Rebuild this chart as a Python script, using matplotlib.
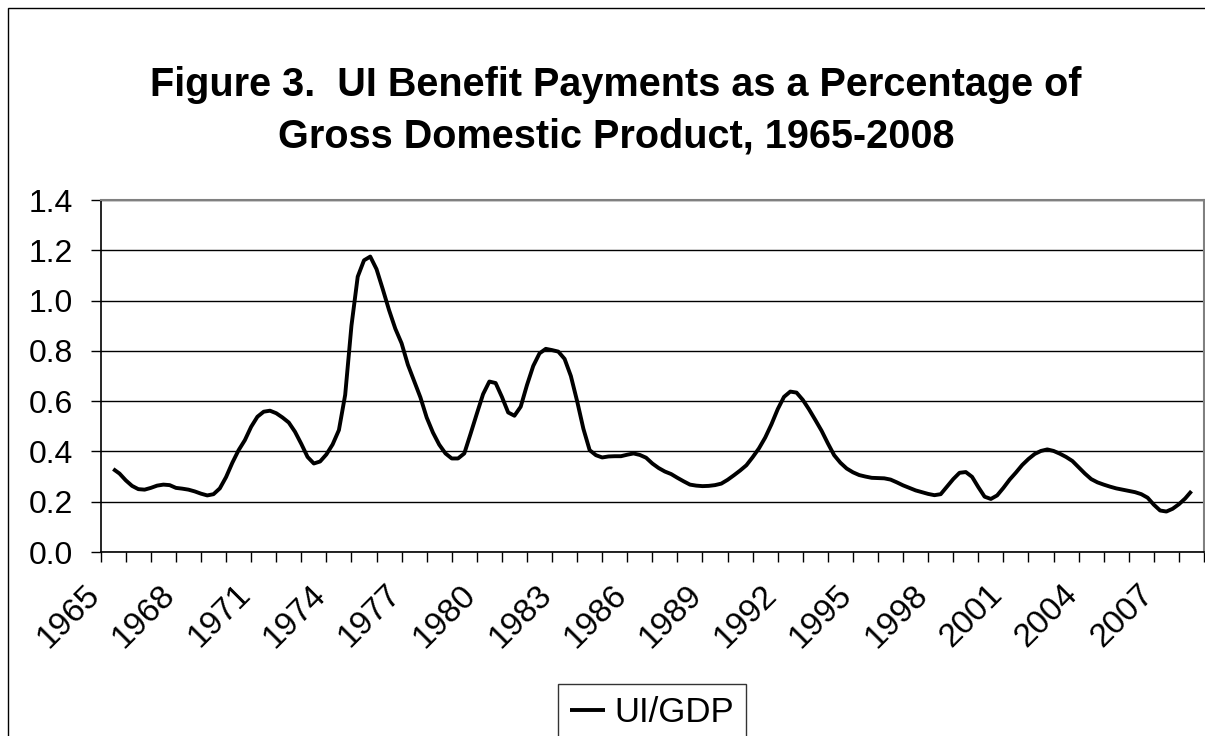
import matplotlib.pyplot as plt
import matplotlib.patches as patches
import matplotlib.transforms as mtransforms
import numpy as np

plt.rcParams['font.family'] = ['Liberation Sans', 'DejaVu Sans']

# quarterly values, UI benefits as % of GDP, 1965Q1 .. 2008Q1
ui_gdp = [
    0.330, 0.312, 0.285, 0.263,  # 1965
    0.250, 0.248, 0.255, 0.264,
    0.268, 0.266, 0.255, 0.252,
    0.248, 0.241, 0.232, 0.225,
    0.230, 0.253, 0.298, 0.355,
    0.405, 0.445, 0.498, 0.538,  # 1970
    0.558, 0.562, 0.552, 0.535,
    0.515, 0.478, 0.430, 0.378,
    0.352, 0.360, 0.388, 0.428,
    0.485, 0.625, 0.900, 1.095,
    1.160, 1.175, 1.125, 1.045,  # 1975
    0.962, 0.888, 0.830, 0.745,
    0.680, 0.615, 0.535, 0.475,
    0.427, 0.392, 0.372, 0.372,
    0.392, 0.470, 0.550, 0.628,
    0.678, 0.672, 0.617, 0.555,  # 1980
    0.542, 0.578, 0.664, 0.740,
    0.790, 0.808, 0.803, 0.797,
    0.768, 0.700, 0.600, 0.490,
    0.405, 0.385, 0.376, 0.380,
    0.381, 0.381, 0.387, 0.392,  # 1985
    0.386, 0.375, 0.352, 0.334,
    0.320, 0.310, 0.295, 0.281,
    0.268, 0.264, 0.262, 0.263,
    0.266, 0.272, 0.287, 0.305,
    0.324, 0.345, 0.377, 0.412,  # 1990
    0.455, 0.508, 0.568, 0.617,
    0.638, 0.634, 0.605, 0.567,
    0.525, 0.482, 0.432, 0.385,
    0.355, 0.332, 0.317, 0.306,
    0.300, 0.295, 0.294, 0.293,  # 1995
    0.288, 0.277, 0.265, 0.255,
    0.245, 0.238, 0.231, 0.226,
    0.230, 0.260, 0.290, 0.315,
    0.318, 0.299, 0.258, 0.220,
    0.211, 0.225, 0.255, 0.288,  # 2000
    0.316, 0.346, 0.370, 0.390,
    0.402, 0.408, 0.402, 0.391,
    0.378, 0.362, 0.337, 0.312,
    0.290, 0.277, 0.268, 0.260,
    0.253, 0.248, 0.243, 0.238,  # 2005
    0.230, 0.216, 0.188, 0.165,
    0.161, 0.172, 0.190, 0.213,
    0.242,                       # 2008
]
first_year = 1965
last_year = 2008
label_years = list(range(1965, 2008, 3))
y_ticks = [0.0, 0.2, 0.4, 0.6, 0.8, 1.0, 1.2, 1.4]

quarters = first_year + np.arange(len(ui_gdp)) / 4.0

W, H = 1205, 736
fig = plt.figure(figsize=(W / 100, H / 100), dpi=100)
ax = fig.add_axes([100.7 / W, 1 - 552 / H, (1204 - 100.7) / W, (552 - 200) / H])

ax.plot(quarters, ui_gdp, color='black', lw=2.8, solid_joinstyle='round',
        solid_capstyle='butt', label='UI/GDP')

ax.set_xlim(first_year - 0.5, last_year + 0.5)
ax.set_ylim(0, 1.4)

ax.set_yticks(y_ticks)
ax.set_yticklabels(['%.1f' % v for v in y_ticks], fontsize=23)
ax.yaxis.grid(True, color='black', lw=1.0)
ax.set_axisbelow(True)

# tick marks between categories, labels at category centres (every 3rd year)
ax.set_xticks(np.arange(first_year - 0.5, last_year + 0.6, 1.0))
ax.set_xticklabels([])
lab_trans = ax.get_xaxis_transform() + mtransforms.ScaledTranslation(-18 / 100, -38 / 100, fig.dpi_scale_trans)
for yr in label_years:
    ax.text(yr, 0, str(yr), transform=lab_trans, fontsize=24, rotation=45,
            ha='right', va='center', rotation_mode='anchor')

ax.tick_params(axis='x', direction='out', length=7, width=1, color='black')
ax.tick_params(axis='y', direction='out', length=7, width=1, color='black', pad=13)

for side in ['top', 'right']:
    ax.spines[side].set_color('#808080')
    ax.spines[side].set_linewidth(1.5)
for side in ['left', 'bottom']:
    ax.spines[side].set_color('black')
    ax.spines[side].set_linewidth(1.2)

fig.text(616 / W, 1 - 85 / H, 'Figure 3.  UI Benefit Payments as a Percentage of',
         ha='center', va='center', fontsize=28.5, fontweight='bold')
fig.text(616 / W, 1 - 137 / H, 'Gross Domestic Product, 1965-2008',
         ha='center', va='center', fontsize=28.5, fontweight='bold')

leg = ax.legend(loc='upper center', bbox_to_anchor=(652 / W, 1 - 684 / H),
                bbox_transform=fig.transFigure, fontsize=25, frameon=True, fancybox=False,
                handlelength=1.0, handletextpad=0.25, borderpad=0.35, borderaxespad=0)
leg.get_frame().set_edgecolor('black')
leg.get_frame().set_linewidth(1.0)

# outer chart-area border
fig.patches.append(patches.Rectangle((8 / W, -0.05), 1.2, 1.05 - 8 / H,
                                     transform=fig.transFigure, fill=False,
                                     edgecolor='black', lw=1.0))

fig.savefig('out.png', dpi=100)
